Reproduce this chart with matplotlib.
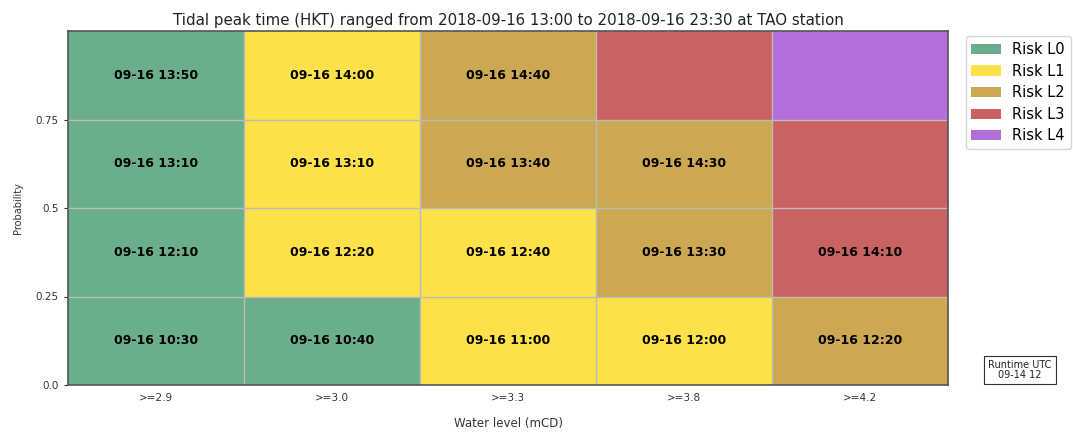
import matplotlib
matplotlib.use("Agg")
import matplotlib.pyplot as plt
from matplotlib.patches import Patch

levels = [">=2.9", ">=3.0", ">=3.3", ">=3.8", ">=4.2"]
prob_edges = [0.0, 0.25, 0.5, 0.75, 1.0]
# risk level per cell: rows from bottom (prob 0-0.25) to top
risk = [
    [0, 0, 1, 1, 2],
    [0, 1, 1, 2, 3],
    [0, 1, 2, 2, 3],
    [0, 1, 2, 3, 4],
]
times = [
    ["09-16 10:30", "09-16 10:40", "09-16 11:00", "09-16 12:00", "09-16 12:20"],
    ["09-16 12:10", "09-16 12:20", "09-16 12:40", "09-16 13:30", "09-16 14:10"],
    ["09-16 13:10", "09-16 13:10", "09-16 13:40", "09-16 14:30", ""],
    ["09-16 13:50", "09-16 14:00", "09-16 14:40", "", ""],
]
risk_names = ["Risk L0", "Risk L1", "Risk L2", "Risk L3", "Risk L4"]
risk_colors = ["#6aae8a", "#fde14a", "#cca852", "#c96260", "#b36ed9"]

fig = plt.figure(figsize=(10.73, 4.32), dpi=100)
ax = fig.add_axes([68/1073, 1-385/432, 880/1073, 354/432])

for r in range(len(risk)):
    for c in range(len(levels)):
        y0 = prob_edges[r]
        h = prob_edges[r+1] - prob_edges[r]
        ax.bar(c, h, bottom=y0, width=1.0, color=risk_colors[risk[r][c]],
               edgecolor="none", zorder=1)
        if times[r][c]:
            ax.text(c, y0 + h/2, times[r][c], ha="center", va="center",
                    fontsize=9, fontweight="bold", color="black", zorder=3)

ax.set_xlim(-0.5, len(levels)-0.5)
ax.set_ylim(0, 1)
ax.set_xticks(range(len(levels)))
ax.set_xticklabels(levels)
ax.set_yticks([0.0, 0.25, 0.5, 0.75])
ax.set_yticklabels(["0.0", "0.25", "0.5", "0.75"])
ax.tick_params(axis="x", length=0, labelsize=7.5, colors="#333333", pad=6)
ax.tick_params(axis="y", length=3, labelsize=7.5, colors="#333333", width=0.8)
for y in [0.25, 0.5, 0.75]:
    ax.axhline(y, color="#bbbbbb", lw=1, zorder=2)
for x in [0.5, 1.5, 2.5, 3.5]:
    ax.axvline(x, color="#bbbbbb", lw=1, zorder=2)
for s in ax.spines.values():
    s.set_color("#555555")
    s.set_linewidth(1.2)

ax.set_title("Tidal peak time (HKT) ranged from 2018-09-16 13:00 to 2018-09-16 23:30 at TAO station",
             fontsize=10.8, color="#222222", pad=4)
ax.set_xlabel("Water level (mCD)", fontsize=8.5, color="#333333", va="center")
ax.xaxis.set_label_coords(0.5, -(423-385)/354)
ax.set_ylabel("Probability", fontsize=7, color="#333333", va="center")
ax.yaxis.set_label_coords((18-68)/880, 0.5)

handles = [Patch(facecolor=col, edgecolor="none", label=n) for n, col in zip(risk_names, risk_colors)]
leg = ax.legend(handles=handles, loc="upper left", bbox_to_anchor=(1.02, 0.985),
                fontsize=10.5, frameon=True, handlelength=2.0, borderaxespad=0.0,
                labelspacing=0.45, fancybox=True)
leg.get_frame().set_edgecolor("#cccccc")

fig.text(1020/1073, 1-370/432, "Runtime UTC\n09-14 12", ha="center", va="center",
         fontsize=7, color="#222222", linespacing=1.0,
         bbox=dict(boxstyle="square,pad=0.4", facecolor="white", edgecolor="#333333", lw=0.8))

fig.savefig("out.png", dpi=100)
